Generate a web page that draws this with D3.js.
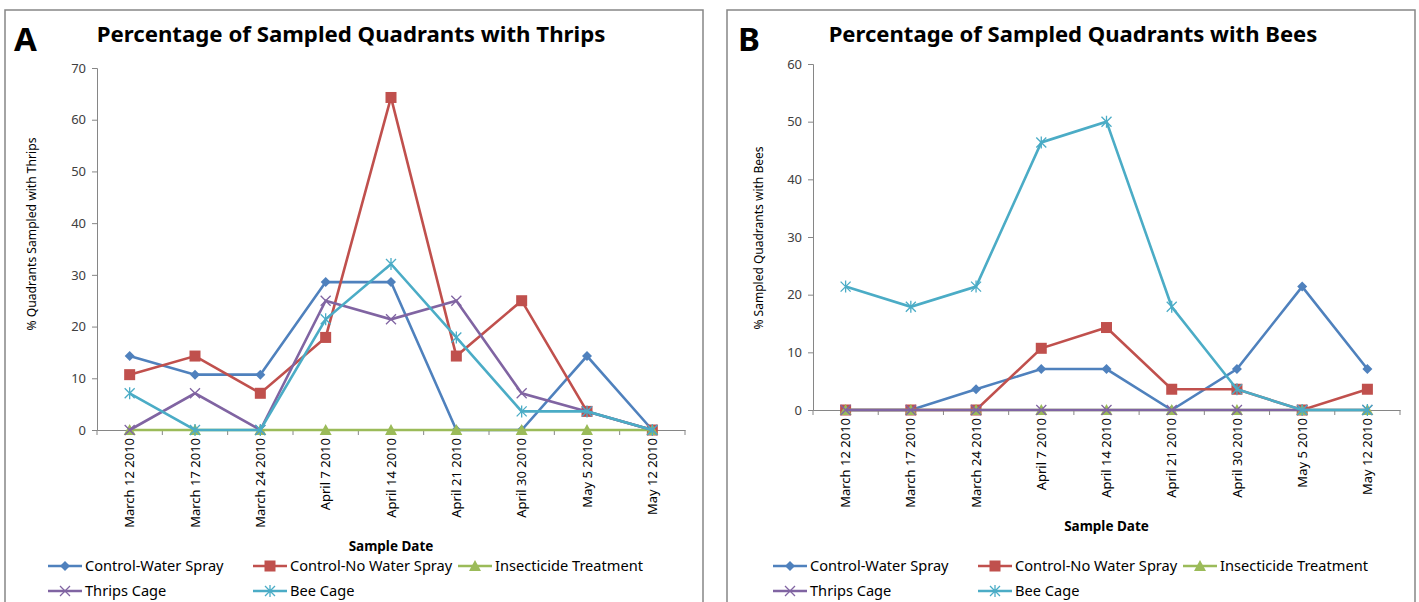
<!DOCTYPE html>
<html><head><meta charset="utf-8">
<script src="https://cdn.jsdelivr.net/npm/d3@7"></script>
<style>body{margin:0;background:#fff;} svg{display:block;} text{font-family:"Noto Sans",sans-serif;}</style>
</head><body>
<svg id="chart" width="1419" height="602"></svg>
<script>
const dates = ["March 12 2010","March 17 2010","March 24 2010","April 7 2010","April 14 2010","April 21 2010","April 30 2010","May 5 2010","May 12 2010"];
const seriesNames = ["Control-Water Spray","Control-No Water Spray","Insecticide Treatment","Thrips Cage","Bee Cage"];
const seriesColors = ["#4F81BD","#C0504D","#9BBB59","#8064A2","#4BACC6"];
const seriesMarkers = ["diamond","square","triangle","x","star"];

// Panel A: % quadrants with thrips
const thripsWaterSpray   = [14.3,10.7,10.7,28.6,28.6,0,0,14.3,0];
const thripsNoWaterSpray = [10.7,14.3,7.1,17.9,64.3,14.3,25,3.6,0];
const thripsInsecticide  = [0,0,0,0,0,0,0,0,0];
const thripsThripsCage   = [0,7.1,0,25,21.4,25,7.1,3.6,0];
const thripsBeeCage      = [7.1,0,0,21.4,32.1,17.9,3.6,3.6,0];
const thripsTicks = [0,10,20,30,40,50,60,70];

// Panel B: % quadrants with bees
const beesWaterSpray   = [0,0,3.6,7.1,7.1,0,7.1,21.4,7.1];
const beesNoWaterSpray = [0,0,0,10.7,14.3,3.6,3.6,0,3.6];
const beesInsecticide  = [0,0,0,0,0,0,0,0,0];
const beesThripsCage   = [0,0,0,0,0,0,0,0,0];
const beesBeeCage      = [21.4,17.9,21.4,46.4,50,17.9,3.6,0,0];
const beesTicks = [0,10,20,30,40,50,60];

const svg = d3.select("#chart");
const axisGray = "#868686";

function marker(g, type, color, x, y){
  if(type==="diamond"){
    g.append("path").attr("d",`M${x},${y-5}L${x+5},${y}L${x},${y+5}L${x-5},${y}Z`).attr("fill",color);
  } else if(type==="square"){
    g.append("rect").attr("x",x-5.5).attr("y",y-5.5).attr("width",11).attr("height",11).attr("fill",color);
  } else if(type==="triangle"){
    g.append("path").attr("d",`M${x},${y-6}L${x+6},${y+5}L${x-6},${y+5}Z`).attr("fill",color);
  } else if(type==="x"){
    g.append("path").attr("d",`M${x-5},${y-5}L${x+5},${y+5}M${x-5},${y+5}L${x+5},${y-5}`).attr("stroke",color).attr("stroke-width",1.3).attr("fill","none");
  } else if(type==="star"){
    g.append("path").attr("d",`M${x-5},${y-5}L${x+5},${y+5}M${x-5},${y+5}L${x+5},${y-5}M${x},${y-6}L${x},${y+6}`).attr("stroke",color).attr("stroke-width",1.3).attr("fill","none");
  }
}

function fitWidth(sel, target, base){
  const w = sel.node().getComputedTextLength();
  sel.attr("font-size", base*target/w);
}

function panel(cfg){
  const g = svg.append("g");
  g.append("rect").attr("x",cfg.box[0]).attr("y",cfg.box[1]).attr("width",cfg.box[2]).attr("height",cfg.box[3])
    .attr("fill","#fff").attr("stroke",axisGray).attr("stroke-width",1.5);
  g.append("text").attr("x",cfg.letterX).attr("y",51).attr("font-family","'Open Sans',sans-serif")
    .attr("font-weight","bold").attr("font-size",33).attr("fill","#000").text(cfg.letter);
  const t = g.append("text").attr("x",cfg.titleX).attr("y",42).attr("text-anchor","middle").attr("font-family","'Open Sans',sans-serif")
    .attr("font-weight","bold").attr("font-size",20).attr("fill","#000").text(cfg.title);
  fitWidth(t, cfg.titleW, 20);

  const x = d3.scaleBand().domain(dates).range([cfg.left,cfg.right]);
  const y = d3.scaleLinear().domain([0,d3.max(cfg.ticks)]).range([cfg.bottom,cfg.top]);

  const yAxis = g.append("g").attr("transform",`translate(${cfg.left},0)`)
    .call(d3.axisLeft(y).tickValues(cfg.ticks).tickSize(5).tickPadding(6));
  yAxis.select(".domain").attr("stroke",axisGray);
  yAxis.selectAll(".tick line").attr("stroke",axisGray);
  yAxis.selectAll(".tick text").attr("font-size",13).attr("fill","#404040").attr("font-family","'Noto Sans',sans-serif");

  const xAxis = g.append("g").attr("transform",`translate(0,${cfg.bottom})`)
    .call(d3.axisBottom(x).tickSize(0).tickPadding(8));
  xAxis.select(".domain").attr("stroke",axisGray);
  xAxis.selectAll(".tick text").attr("font-size",13).attr("fill","#000")
    .attr("transform","rotate(-90)").attr("text-anchor","end").attr("dx","-8").attr("dy","0.35em").attr("y",0).attr("x",0)
    .attr("font-family","'Noto Sans',sans-serif");
  const bounds = dates.map(d=>x(d)).concat([cfg.right]);
  g.append("g").selectAll("line").data(bounds).join("line")
    .attr("x1",d=>d).attr("x2",d=>d).attr("y1",cfg.bottom).attr("y2",cfg.bottom+5).attr("stroke",axisGray);

  g.append("text").attr("transform",`translate(${cfg.yLabelX},${cfg.yLabelY}) rotate(-90)`)
    .attr("text-anchor","middle").attr("font-size",12.5).attr("font-family","'Noto Sans',sans-serif").attr("fill","#000")
    .attr("textLength",cfg.yLabelW).attr("lengthAdjust","spacingAndGlyphs").text(cfg.yLabel);
  g.append("text").attr("x",(cfg.left+cfg.right)/2).attr("y",cfg.xLabelY).attr("text-anchor","middle")
    .attr("font-weight","bold").attr("font-size",13.5).attr("font-family","'Open Sans',sans-serif").attr("fill","#000").text("Sample Date");

  const cx = d => x(d)+x.bandwidth()/2;
  const line = d3.line().x((v,i)=>cx(dates[i])).y(v=>y(v));
  cfg.series.forEach((vals,k)=>{
    g.append("path").datum(vals).attr("d",line).attr("fill","none").attr("stroke",seriesColors[k]).attr("stroke-width",2.6);
    const mg = g.append("g");
    vals.forEach((v,i)=>marker(mg,seriesMarkers[k],seriesColors[k],cx(dates[i]),y(v)));
  });

  const legPos = [[0,0],[1,0],[2,0],[0,1],[1,1]];
  seriesNames.forEach((name,k)=>{
    const lx = cfg.legendX + legPos[k][0]*205, ly = 566 + legPos[k][1]*25;
    const lg = g.append("g");
    lg.append("line").attr("x1",lx).attr("x2",lx+34).attr("y1",ly).attr("y2",ly).attr("stroke",seriesColors[k]).attr("stroke-width",2.6);
    marker(lg,seriesMarkers[k],seriesColors[k],lx+17,ly);
    lg.append("text").attr("x",lx+37).attr("y",ly+5).attr("font-size",14.6).attr("fill","#000").text(name);
  });
}

panel({box:[5,10,698,600], letter:"A", letterX:14, title:"Percentage of Sampled Quadrants with Thrips", titleX:351, titleW:509,
  left:97, right:685, top:68, bottom:430, ticks:thripsTicks, yLabel:"% Quadrants Sampled with Thrips", yLabelX:36, yLabelY:234, yLabelW:193, xLabelY:551,
  series:[thripsWaterSpray,thripsNoWaterSpray,thripsInsecticide,thripsThripsCage,thripsBeeCage], legendX:48});
panel({box:[727,10,688,600], letter:"B", letterX:738, title:"Percentage of Sampled Quadrants with Bees", titleX:1073, titleW:489,
  left:813, right:1400, top:64, bottom:410, ticks:beesTicks, yLabel:"% Sampled Quadrants with Bees", yLabelX:763, yLabelY:238, yLabelW:183, xLabelY:531,
  series:[beesWaterSpray,beesNoWaterSpray,beesInsecticide,beesThripsCage,beesBeeCage], legendX:773});
</script>
</body></html>
